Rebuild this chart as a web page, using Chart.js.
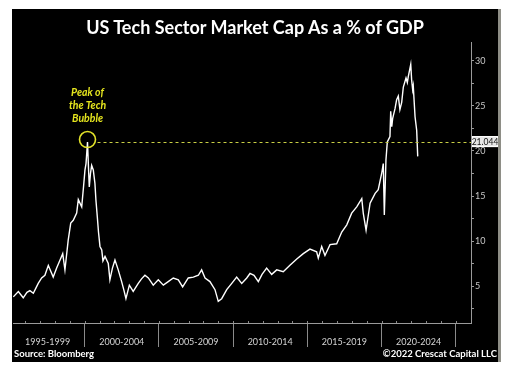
<!DOCTYPE html>
<html><head><meta charset="utf-8">
<script src="https://cdn.jsdelivr.net/npm/chart.js@4.4.1/dist/chart.umd.min.js"></script>
<style>
html,body{margin:0;padding:0;background:#fff;width:513px;height:368px;overflow:hidden}
#box{position:absolute;left:12px;top:9px;width:486px;height:353px;background:#000;border-right:3px solid #8e8e86}
#wrap{position:absolute;left:0;top:0;width:486px;height:353px}
#title{position:absolute;left:0;width:486px;top:7px;text-align:center;color:#fff;font:bold 18px Lato,sans-serif;white-space:nowrap}
.foot{position:absolute;top:339px;color:#fff;font:bold 9.5px Lato,sans-serif;white-space:nowrap}
</style></head><body>
<div id="box">
<div id="wrap"><canvas id="c"></canvas></div>
<div id="title">US Tech Sector Market Cap As a % of GDP</div>
<div class="foot" style="left:2px">Source: Bloomberg</div>
<div class="foot" style="right:1px">©2022 Crescat Capital LLC</div>
</div>
<script>
const years = [
1995.19,1995.53,1995.86,1996.11,1996.31,1996.54,1996.72,1996.87,1997.10,1997.32,1997.55,1997.73,1997.88,
1998.11,1998.34,1998.52,1998.67,1998.89,1999.06,1999.23,1999.46,1999.57,1999.80,1999.92,
2000.02,2000.09,2000.19,2000.26,2000.31,2000.39,2000.47,2000.58,2000.69,2000.76,2000.85,2000.93,
2001.03,2001.15,2001.23,2001.37,2001.59,2001.70,2001.87,2002.04,2002.26,2002.49,2002.65,2002.78,
2003.01,2003.27,2003.61,2003.83,2004.06,2004.29,2004.62,2004.96,2005.30,2005.63,2005.97,
2006.31,2006.60,2006.98,2007.32,2007.66,2007.88,2008.11,2008.44,2008.78,2009.00,2009.23,2009.57,2009.91,
2010.24,2010.58,2010.92,2011.14,2011.41,2011.70,2011.95,2012.26,2012.60,2012.94,2013.38,2013.83,
2014.29,2014.73,2015.18,2015.63,2015.74,2015.97,2016.19,2016.53,2016.98,2017.32,2017.66,2017.99,
2018.33,2018.67,2018.77,2018.96,2019.23,2019.57,2019.78,2020.01,2020.12,2020.19,2020.30,2020.39,
2020.57,2020.62,2020.69,2020.75,2020.91,2021.02,2021.13,2021.24,2021.36,2021.47,2021.65,2021.74,
2021.81,2021.97,2022.03,2022.10,2022.14,2022.26,2022.37,2022.44
];
const values = [
3.8,4.4,3.7,4.3,4.5,4.2,4.8,5.3,5.9,6.2,7.3,6.6,6.0,
7.0,7.9,8.6,6.8,10.1,12.0,12.3,13.1,14.6,13.8,16.0,
17.9,18.6,21.0,18.0,16.0,17.5,18.4,17.9,16.4,14.5,12.7,11.0,
9.4,9.0,7.8,8.3,7.5,5.7,7.0,7.9,6.8,5.5,4.5,3.6,
5.1,4.4,5.3,5.8,6.2,5.9,5.1,5.7,5.1,5.5,5.9,
5.7,4.9,5.9,6.0,6.2,6.8,5.9,5.5,4.6,3.3,3.6,4.6,5.3,
6.0,5.3,5.9,6.4,6.2,5.5,6.3,7.0,6.3,6.8,6.6,7.3,
8.0,8.6,9.1,8.8,8.1,9.4,8.4,9.6,9.7,11.0,11.8,13.1,
13.8,14.7,13.1,11.2,14.2,15.3,15.7,17.5,18.6,12.9,19.0,21.0,
21.6,24.4,22.7,23.6,24.7,25.7,26.1,24.6,25.4,27.1,28.1,27.6,
28.3,29.6,27.9,26.8,27.2,23.8,22.3,19.4
];
const periodStarts = [2000,2005,2010,2015,2020,2025];
const periodLabels = ['1995-1999','2000-2004','2005-2009','2010-2014','2015-2019','2020-2024'];
const yTickValues = [2.5,5,7.5,10,12.5,15,17.5,20,22.5,25,27.5,30];
const peakYear = 2000.19;
const peakValue = 21.044;
const annotationLines = ['Peak of','the Tech','Bubble'];

const annot = {
  id:'annot',
  afterDraw(chart){
    const {ctx, scales:{x,y}, chartArea} = chart;
    const px = x.getPixelForValue(peakYear), py = y.getPixelForValue(peakValue);
    ctx.save();
    ctx.strokeStyle='#8a8a8a'; ctx.lineWidth=1;
    for(let yr=1996; yr<=2026; yr++){
      const xx = Math.round(x.getPixelForValue(yr))+0.5;
      if(xx<chartArea.left||xx>chartArea.right) continue;
      ctx.beginPath(); ctx.moveTo(xx, chartArea.bottom-2); ctx.lineTo(xx, chartArea.bottom); ctx.stroke();
    }
    ctx.strokeStyle='#c9cf45'; ctx.lineWidth=1; ctx.setLineDash([3,3]);
    ctx.beginPath(); ctx.moveTo(px+10, Math.round(py)+0.5); ctx.lineTo(chartArea.right, Math.round(py)+0.5); ctx.stroke();
    ctx.setLineDash([]);
    ctx.strokeStyle='#e2e22a'; ctx.lineWidth=1.6;
    ctx.beginPath(); ctx.arc(px, py-2, 8, 0, Math.PI*2); ctx.stroke();
    ctx.fillStyle='#e4e41e'; ctx.font='italic bold 10.5px Lato, sans-serif';
    ctx.textAlign='center'; ctx.textBaseline='middle';
    annotationLines.forEach((t,i)=>ctx.fillText(t, px, py-48.5+i*13));
    const bx = chartArea.right+1, bw = chart.width-bx, bh = 11;
    ctx.fillStyle='#e6e6e6'; ctx.fillRect(bx, py-bh/2, bw, bh);
    ctx.strokeStyle='#ffffff'; ctx.lineWidth=1; ctx.strokeRect(bx+0.5, py-bh/2+0.5, bw-1, bh-1);
    ctx.fillStyle='#111'; ctx.font='8.5px Lato, sans-serif'; ctx.textAlign='center';
    ctx.fillText(peakValue.toFixed(3), bx+bw/2, py+0.5);
    ctx.restore();
  }
};

new Chart(document.getElementById('c'), {
  type:'line',
  data:{datasets:[{
    data: years.map((t,i)=>({x:t, y:values[i]})),
    borderColor:'#ffffff', borderWidth:1.4, pointRadius:0, tension:0, fill:false
  }]},
  options:{
    responsive:true, maintainAspectRatio:false, animation:false,
    layout:{padding:{top:33,left:1,right:0,bottom:0}},
    plugins:{legend:{display:false}, tooltip:{enabled:false}, title:{display:false}},
    scales:{
      x:{
        type:'linear', min:1995.17, max:2026.03,
        afterBuildTicks(s){
          const t=[{value:1997.5}];
          periodStarts.forEach((p,i)=>{ t.push({value:p}); if(i+1<periodLabels.length) t.push({value:p+2.5}); });
          s.ticks=t;
        },
        afterFit(s){ s.height=39; },
        grid:{drawOnChartArea:false, drawTicks:true, tickLength:24,
          tickColor:(c)=> (c.tick && Math.abs(c.tick.value%5)<0.01) ? '#8a8a8a' : 'rgba(0,0,0,0)'},
        border:{display:true, color:'#9a9a9a', width:1},
        ticks:{autoSkip:false, maxRotation:0, minRotation:0, padding:-10, color:'#d4d4d4',
          font:{family:'Lato', size:9},
          callback(v){ const r=((v-1995)%5+5)%5; if(Math.abs(r-2.5)<0.01){ return periodLabels[Math.round((v-1997.5)/5)]||''; } return ''; }}
      },
      y:{
        position:'right', min:0.9, max:32.1,
        afterBuildTicks(s){ s.ticks = yTickValues.map(v=>({value:v})); },
        afterFit(s){ s.width=27; },
        grid:{drawOnChartArea:false, drawTicks:true, tickLength:3, tickColor:'#9a9a9a'},
        border:{display:true, color:'#9a9a9a', width:1},
        ticks:{padding:1, color:'#c8c8c8', font:{family:'Lato', size:9},
          callback(v){ return (v%5===0) ? String(v) : ''; }}
      }
    }
  },
  plugins:[annot]
});
</script>
</body></html>
